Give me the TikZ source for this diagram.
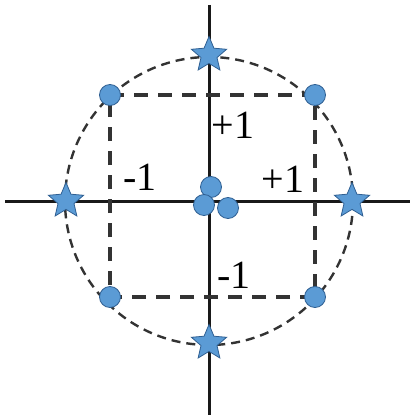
\documentclass[tikz,border=0pt]{standalone}
\usepackage{fontspec}
\setmainfont{Liberation Serif}
\usetikzlibrary{shapes.geometric}
\definecolor{ptfill}{HTML}{5B9BD5}
\definecolor{ptedge}{HTML}{2F5F92}
\tikzset{
  axis/.style={line width=3pt, draw=black!90},
  circdash/.style={line width=2.4pt, draw=black!80, dash pattern=on 9pt off 6pt},
  sqdash/.style={line width=3.2pt, draw=black!80, dash pattern=on 14pt off 10pt},
  dot/.style={circle, fill=ptfill, draw=ptedge, line width=0.8pt, minimum size=21pt, inner sep=0pt},
  starpt/.style={star, star points=5, star point ratio=2.2, fill=ptfill, draw=ptedge, line width=0.8pt, minimum size=37pt, inner sep=0pt},
  lab/.style={font=\fontsize{40}{42}\selectfont, inner sep=0pt}
}
\begin{document}
\begin{tikzpicture}[x=1pt,y=-1pt]
\useasboundingbox (0,0) rectangle (415,417);
\coordinate (O) at (209,201);
\coordinate (xl) at (5,201);
\coordinate (xr) at (410,201);
\coordinate (yt) at (209,5);
\coordinate (yb) at (209,415);
\draw[axis] (xl) -- (xr);
\draw[axis] (yt) -- (yb);
\draw[circdash] (O) circle (144);
\coordinate (q1) at (315,95);
\coordinate (q2) at (110,95);
\coordinate (q3) at (110,297);
\coordinate (q4) at (315,297);
\draw[sqdash] (q2) -- (q1) -- (q4) -- (q3) -- cycle;
\node[starpt] (s1) at (209,55) {};
\node[starpt] (s2) at (66,201) {};
\node[starpt] (s3) at (209,343) {};
\node[starpt] (s4) at (352,201) {};
\node[dot] (d1) at (q1) {};
\node[dot] (d2) at (q2) {};
\node[dot] (d3) at (q3) {};
\node[dot] (d4) at (q4) {};
\node[dot] (c1) at (211,187) {};
\node[dot] (c2) at (204,205) {};
\node[dot] (c3) at (228,208) {};
\node[lab] (l1) at (233,125) {+1};
\node[lab] (l2) at (140,177) {-1};
\node[lab] (l3) at (283,179) {+1};
\node[lab] (l4) at (234,275) {-1};
\end{tikzpicture}
\end{document}
